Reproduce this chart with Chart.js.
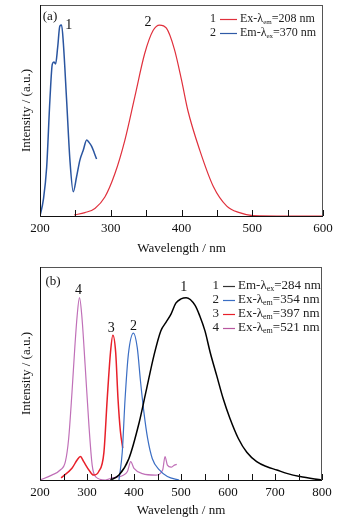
<!DOCTYPE html>
<html lang="en">
<head>
  <meta charset="UTF-8">
  <title>Excitation and emission spectra</title>
  <style>
    body { margin: 0; background: #fff; }
    .panel { position: absolute; left: 0; width: 341px; height: 262px; }
    #panelA { top: 0; }
    #panelB { top: 262px; }
  </style>
</head>
<body>
  <div class="panel" id="panelA"><canvas id="chartA" width="341" height="262"></canvas></div>
  <div class="panel" id="panelB"><canvas id="chartB" width="341" height="262"></canvas></div>

  <script src="https://cdn.jsdelivr.net/npm/chart.js"></script>
  <script>
    // ---- panel (a) ----
    const aBlueNm = [200, 204.7, 209.4, 214, 217.4, 219.7, 222, 225, 228, 230.5, 233, 237.6, 242.3, 247, 251.7, 256.4, 261, 266, 269, 273, 276.6, 280];
    const aBlueI  = [0, 0.076, 0.23, 0.55, 0.72, 0.73, 0.72, 0.80, 0.90, 0.905, 0.82, 0.55, 0.265, 0.115, 0.186, 0.265, 0.31, 0.36, 0.35, 0.33, 0.30, 0.27];

    const aRedNm = [248.4, 263.5, 277.6, 291.7, 305.8, 320, 334, 348, 360, 369, 378.7, 390, 400, 409, 426, 445, 464, 482, 501, 550, 600];
    const aRedI  = [0.005, 0.016, 0.036, 0.09, 0.2, 0.36, 0.565, 0.77, 0.88, 0.905, 0.89, 0.79, 0.645, 0.5, 0.31, 0.14, 0.047, 0.016, 0.002, 0, 0];

    // ---- panel (b) ----
    const bBlackNm = [350, 368, 389, 411, 425, 443, 457, 468, 479, 489, 500, 511, 530, 540, 551, 562, 576, 590, 604, 622, 640, 661, 683, 704, 725, 753, 800];
    const bBlackI  = [0, 0.023, 0.1, 0.27, 0.41, 0.59, 0.70, 0.74, 0.78, 0.83, 0.85, 0.856, 0.82, 0.77, 0.70, 0.60, 0.49, 0.38, 0.29, 0.195, 0.13, 0.086, 0.062, 0.047, 0.031, 0.016, 0];

    const bBlueNm = [368, 375, 381, 388, 399, 407, 414, 421, 429, 439, 454, 471, 496];
    const bBlueI  = [0, 0.13, 0.38, 0.59, 0.69, 0.62, 0.46, 0.32, 0.195, 0.1, 0.047, 0.016, 0];

    const bRedNm = [245, 268, 279, 286, 293, 304, 314, 325, 336, 343, 350, 355, 361, 366, 371, 376];
    const bRedI  = [0.01, 0.055, 0.094, 0.11, 0.086, 0.047, 0.023, 0.04, 0.13, 0.38, 0.6, 0.68, 0.6, 0.38, 0.23, 0.15];

    const bPurpleNm = [200, 225, 243, 254, 261, 268, 274, 279, 284, 289, 296, 304, 311, 318, 339, 354, 375, 386, 393, 400, 418, 446, 461, 466, 471, 479, 486, 491];
    const bPurpleI  = [0, 0.023, 0.047, 0.086, 0.195, 0.41, 0.62, 0.77, 0.856, 0.77, 0.54, 0.26, 0.07, 0.016, 0, 0.01, 0.02, 0.04, 0.086, 0.055, 0.03, 0.023, 0.047, 0.11, 0.07, 0.06, 0.07, 0.073];

    // peak numbers: [text, nm, intensity]
    const aPeakLabels = [['1', 240.6, 0.905], ['2', 352.6, 0.92]];
    const bPeakLabels = [['4', 282, 0.89], ['3', 351.7, 0.71], ['2', 399, 0.72], ['1', 506, 0.906]];

    // legend rows: [number, colour, main, subscript, rest]
    const aLegend = [
      ['1', '#e0303c', 'Ex-λ', 'em', '=208 nm'],
      ['2', '#2f5aa6', 'Em-λ', 'ex', '=370 nm']
    ];
    const bLegend = [
      ['1', '#333333', 'Em-λ', 'ex', '=284 nm'],
      ['2', '#3b6ec4', 'Ex-λ', 'em', '=354 nm'],
      ['3', '#e8202a', 'Ex-λ', 'em', '=397 nm'],
      ['4', '#b8569e', 'Ex-λ', 'em', '=521 nm']
    ];

    const serif = '"Liberation Serif", "DejaVu Serif", serif';

    function toPoints(xs, ys) {
      return xs.map((x, i) => ({ x: x, y: ys[i] }));
    }

    // frame, inward ticks, panel tag, peak numbers, legend
    const decorPlugin = {
      id: 'decor',
      afterDraw(chart, args, opts) {
        const ctx = chart.ctx;
        const area = chart.chartArea;
        const xs = chart.scales.x;
        const ys = chart.scales.y;
        ctx.save();

        // frame: dark left/bottom, greyer top/right like the scan
        ctx.lineWidth = 1;
        ctx.strokeStyle = '#555';
        ctx.strokeRect(area.left + 0.5, area.top + 0.5, area.right - area.left - 1, area.bottom - area.top);
        ctx.strokeStyle = '#111';
        ctx.beginPath();
        ctx.moveTo(area.left + 0.5, area.top);
        ctx.lineTo(area.left + 0.5, area.bottom + 0.5);
        ctx.lineTo(area.right, area.bottom + 0.5);
        ctx.stroke();

        // inward ticks every 50 nm
        ctx.beginPath();
        xs.ticks.forEach(t => {
          const px = Math.round(xs.getPixelForValue(t.value)) + 0.5;
          ctx.moveTo(px, area.bottom);
          ctx.lineTo(px, area.bottom - 6);
        });
        ctx.stroke();

        // panel tag
        ctx.fillStyle = '#111';
        ctx.font = '13px ' + serif;
        ctx.textBaseline = 'middle';
        ctx.textAlign = 'center';
        ctx.fillText(opts.tag, area.left + opts.tagDx, area.top + opts.tagDy);

        // peak numbers
        ctx.font = '14px ' + serif;
        opts.peaks.forEach(p => {
          ctx.fillText(p[0], xs.getPixelForValue(p[1]), ys.getPixelForValue(p[2]));
        });

        // legend
        const L = opts.legend;
        L.rows.forEach((r, i) => {
          const y = L.y + i * L.dy;
          ctx.font = L.size + 'px ' + serif;
          ctx.fillStyle = '#222';
          ctx.textAlign = 'right';
          ctx.fillText(r[0], L.x, y);
          ctx.strokeStyle = r[1];
          ctx.lineWidth = 1.2;
          ctx.beginPath();
          ctx.moveTo(L.x + 4, y + 0.5);
          ctx.lineTo(L.x + 4 + L.len, y + 0.5);
          ctx.stroke();
          ctx.textAlign = 'left';
          let tx = L.x + 7 + L.len;
          ctx.fillText(r[2], tx, y);
          tx += ctx.measureText(r[2]).width;
          ctx.font = Math.round(L.size * 0.62) + 'px ' + serif;
          ctx.fillText(r[3], tx, y + 3);
          tx += ctx.measureText(r[3]).width;
          ctx.font = L.size + 'px ' + serif;
          ctx.fillText(r[4], tx, y);
        });
        ctx.restore();
      }
    };

    function makeChart(id, datasets, xMax, xAxisHeight, padTop, padRight, decor) {
      return new Chart(document.getElementById(id), {
        type: 'line',
        data: { datasets: datasets },
        plugins: [decorPlugin],
        options: {
          responsive: false,
          animation: false,
          devicePixelRatio: 1,
          layout: { padding: { top: padTop, right: padRight, left: 0, bottom: 0 } },
          plugins: { legend: { display: false }, tooltip: { enabled: false }, decor: decor },
          elements: {
            point: { radius: 0 },
            line: { cubicInterpolationMode: 'monotone', borderWidth: 1.2 }
          },
          scales: {
            x: {
              type: 'linear',
              min: 200,
              max: xMax,
              grid: { display: false, drawTicks: false },
              border: { display: false },
              afterFit: s => { s.height = xAxisHeight; },
              ticks: {
                stepSize: 50,
                autoSkip: false,
                maxRotation: 0,
                padding: 5,
                color: '#111',
                font: { family: serif, size: 13 },
                callback: v => (v % 100 === 0 ? v : '')
              },
              title: {
                display: true,
                text: 'Wavelength / nm',
                color: '#111',
                font: { family: serif, size: 13 },
                padding: { top: 0, bottom: 6 }
              }
            },
            y: {
              min: 0,
              max: 1,
              grid: { display: false, drawTicks: false },
              border: { display: false },
              ticks: { display: false },
              afterFit: s => { s.width = 40; },
              title: {
                display: true,
                text: 'Intensity / (a.u.)',
                color: '#111',
                font: { family: serif, size: 13 },
                padding: { top: 19, bottom: 0 }
              }
            }
          }
        }
      });
    }

    makeChart('chartA', [
      { data: toPoints(aBlueNm, aBlueI), borderColor: '#2a55a0', borderWidth: 1.5 },
      { data: toPoints(aRedNm, aRedI), borderColor: '#e0303c' }
    ], 600, 46, 5, 18, {
      tag: '(a)', tagDx: 10, tagDy: 12,
      peaks: aPeakLabels,
      legend: { rows: aLegend, x: 216, y: 19, dy: 14, len: 17, size: 12 }
    });

    makeChart('chartB', [
      { data: toPoints(bBlackNm, bBlackI), borderColor: '#000', borderWidth: 1.5 },
      { data: toPoints(bBlueNm, bBlueI), borderColor: '#3b6ec4' },
      { data: toPoints(bRedNm, bRedI), borderColor: '#e8202a', borderWidth: 1.5 },
      { data: toPoints(bPurpleNm, bPurpleI), borderColor: '#c070b8' }
    ], 800, 44, 5, 19, {
      tag: '(b)', tagDx: 13, tagDy: 15,
      peaks: bPeakLabels,
      legend: { rows: bLegend, x: 219, y: 24, dy: 14, len: 12, size: 13 }
    });
  </script>
</body>
</html>
